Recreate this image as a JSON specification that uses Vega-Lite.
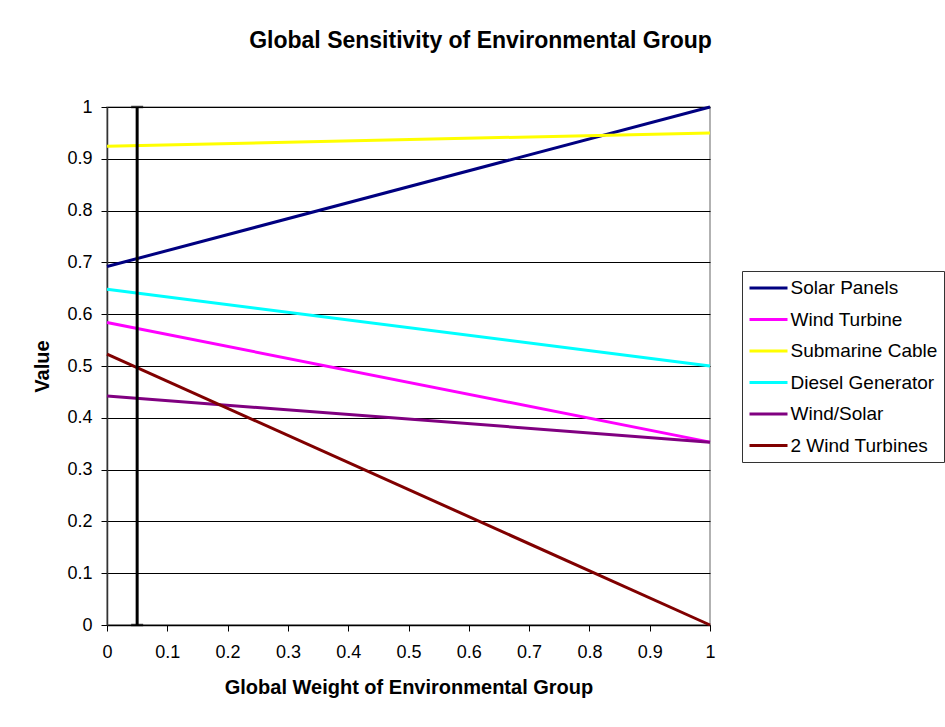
{
  "$schema": "https://vega.github.io/schema/vega-lite/v6.json",
  "width": 603,
  "height": 518,
  "autosize": {"type": "none"},
  "padding": {"left": 107, "top": 107, "right": 235, "bottom": 102},
  "background": "white",
  "title": {
    "text": "Global Sensitivity of Environmental Group",
    "font": "Liberation Sans",
    "fontSize": 23,
    "fontWeight": "bold",
    "color": "black",
    "anchor": "middle",
    "frame": "group",
    "dx": 72,
    "offset": 45
  },
  "config": {
    "view": {"stroke": "#999", "strokeWidth": 1.5},
    "font": "Liberation Sans"
  },
  "datasets": {
    "lines": [
      {"series": "Solar Panels", "x": 0, "value": 0.692},
      {"series": "Solar Panels", "x": 1, "value": 1.0},
      {"series": "Wind Turbine", "x": 0, "value": 0.584},
      {"series": "Wind Turbine", "x": 1, "value": 0.353},
      {"series": "Submarine Cable", "x": 0, "value": 0.924},
      {"series": "Submarine Cable", "x": 1, "value": 0.95},
      {"series": "Diesel Generator", "x": 0, "value": 0.648},
      {"series": "Diesel Generator", "x": 1, "value": 0.5},
      {"series": "Wind/Solar", "x": 0, "value": 0.442},
      {"series": "Wind/Solar", "x": 1, "value": 0.353},
      {"series": "2 Wind Turbines", "x": 0, "value": 0.523},
      {"series": "2 Wind Turbines", "x": 1, "value": 0.0}
    ],
    "marker": [
      {"x": 0.05, "lo": 0, "hi": 1}
    ],
    "caps": [
      {"x": 0.05, "value": 0},
      {"x": 0.05, "value": 1}
    ]
  },
  "layer": [
    {
      "data": {"name": "lines"},
      "mark": {"type": "line", "strokeWidth": 3},
      "encoding": {
        "x": {
          "field": "x",
          "type": "quantitative",
          "scale": {"domain": [0, 1], "nice": false},
          "axis": {
            "title": "Global Weight of Environmental Group",
            "values": [0, 0.1, 0.2, 0.3, 0.4, 0.5, 0.6, 0.7, 0.8, 0.9, 1],
            "format": "~g",
            "grid": false,
            "domainColor": "black",
            "domainWidth": 1.5,
            "tickColor": "black",
            "tickSize": 6,
            "labelFont": "Liberation Sans",
            "labelFontSize": 18,
            "labelColor": "black",
            "labelPadding": 12,
            "labelFlush": false,
            "titleFont": "Liberation Sans",
            "titleFontSize": 20,
            "titleFontWeight": "bold",
            "titleColor": "black",
            "titlePadding": 16
          }
        },
        "y": {
          "field": "value",
          "type": "quantitative",
          "scale": {"domain": [0, 1], "nice": false},
          "axis": {
            "title": "Value",
            "values": [0, 0.1, 0.2, 0.3, 0.4, 0.5, 0.6, 0.7, 0.8, 0.9, 1],
            "format": "~g",
            "grid": true,
            "gridColor": "black",
            "domainColor": "#333",
            "domainWidth": 1.5,
            "tickColor": "black",
            "tickSize": 6,
            "labelFont": "Liberation Sans",
            "labelFontSize": 18,
            "labelColor": "black",
            "labelPadding": 9,
            "labelFlush": false,
            "titleFont": "Liberation Sans",
            "titleFontSize": 20,
            "titleFontWeight": "bold",
            "titleColor": "black",
            "titlePadding": 14
          }
        },
        "color": {
          "field": "series",
          "type": "nominal",
          "scale": {
            "domain": ["Solar Panels", "Wind Turbine", "Submarine Cable", "Diesel Generator", "Wind/Solar", "2 Wind Turbines"],
            "range": ["#000080", "#FF00FF", "#FFFF00", "#00FFFF", "#800080", "#800000"]
          },
          "legend": {
            "title": null,
            "orient": "none",
            "legendX": 635,
            "legendY": 164,
            "strokeColor": "#333",
            "fillColor": "white",
            "padding": 6,
            "symbolType": "M-2,0H2",
            "symbolSize": 361,
            "symbolStrokeWidth": 3,
            "symbolOffset": 9.5,
            "labelOffset": 11,
            "rowPadding": 10.5,
            "labelFont": "Liberation Sans",
            "labelFontSize": 19,
            "labelColor": "black"
          }
        }
      }
    },
    {
      "data": {"name": "marker"},
      "mark": {"type": "rule", "color": "black", "strokeWidth": 3},
      "encoding": {
        "x": {"field": "x", "type": "quantitative"},
        "y": {"field": "lo", "type": "quantitative"},
        "y2": {"field": "hi"}
      }
    },
    {
      "data": {"name": "caps"},
      "mark": {"type": "tick", "orient": "horizontal", "color": "black", "size": 12, "thickness": 2.5},
      "encoding": {
        "x": {"field": "x", "type": "quantitative"},
        "y": {"field": "value", "type": "quantitative"}
      }
    }
  ]
}
